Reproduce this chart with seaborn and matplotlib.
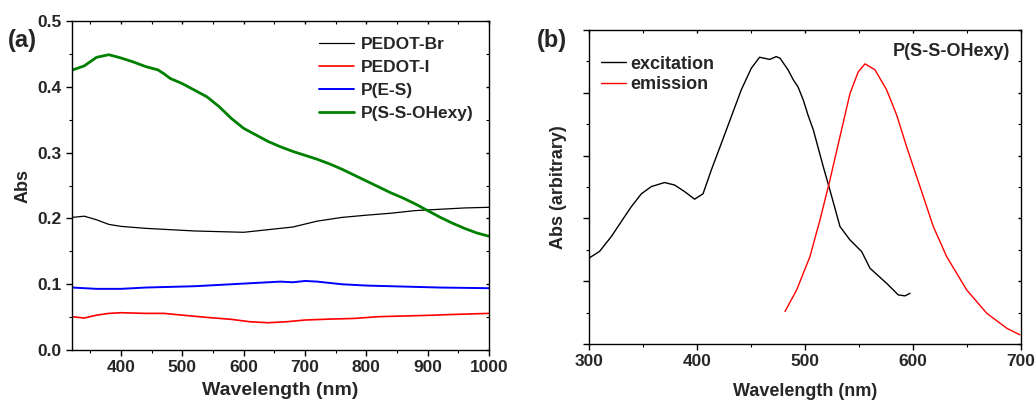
import numpy as np
import pandas as pd
import matplotlib
matplotlib.use("Agg")
import matplotlib.pyplot as plt
from matplotlib.ticker import MultipleLocator, NullFormatter
import seaborn as sns

sns.set_theme(style="white")
plt.rcParams['font.family'] = ['Liberation Sans', 'DejaVu Sans']
plt.rcParams['font.weight'] = 'bold'

# Panel (a) data
wl_green = [320, 340, 360, 380, 400, 420, 440, 460, 470, 480, 500, 520, 540, 560, 580, 600, 620, 640, 660, 680,
            700, 720, 740, 760, 780, 800, 820, 840, 860, 880, 900, 920, 940, 960, 980, 1000]
abs_green = [0.4255, 0.432, 0.445, 0.449, 0.444, 0.438, 0.431, 0.426, 0.420, 0.413, 0.405, 0.395, 0.385, 0.370,
             0.352, 0.337, 0.327, 0.317, 0.309, 0.302, 0.296, 0.290, 0.283, 0.275, 0.266, 0.257, 0.248, 0.239,
             0.231, 0.222, 0.212, 0.202, 0.193, 0.185, 0.178, 0.173]

wl_black = [320, 340, 360, 380, 400, 440, 480, 520, 560, 600, 640, 680, 720, 760, 800, 840, 880, 920, 960, 1000]
abs_black = [0.2016, 0.2035, 0.198, 0.191, 0.188, 0.185, 0.183, 0.181, 0.180, 0.179, 0.183, 0.187, 0.196,
             0.2016, 0.205, 0.208, 0.212, 0.214, 0.216, 0.217]

wl_blue = [320, 360, 400, 440, 480, 520, 560, 600, 640, 660, 680, 700, 720, 760, 800, 840, 880, 920, 1000]
abs_blue = [0.095, 0.093, 0.093, 0.095, 0.096, 0.097, 0.099, 0.101, 0.103, 0.104, 0.103, 0.105, 0.104, 0.100,
            0.098, 0.097, 0.096, 0.095, 0.094]

wl_red = [320, 340, 360, 380, 400, 440, 470, 500, 540, 580, 610, 640, 670, 700, 740, 780, 820, 860, 900, 940, 1000]
abs_red = [0.0507, 0.0486, 0.053, 0.0557, 0.0567, 0.0557, 0.0557, 0.053, 0.0496, 0.0466, 0.043, 0.0415, 0.043,
           0.0456, 0.047, 0.048, 0.0507, 0.0517, 0.0527, 0.054, 0.0557]

# Panel (b) data
wl_exc = [300, 309.9, 320.7, 330, 339.2, 348.5, 357.7, 370, 379.3, 388.6, 397.8, 405.6, 413.3, 422.6, 431.8,
          441, 450.3, 458, 467.3, 473.4, 476.9, 484.3, 489.2, 493.5, 498.4, 502.8, 507.7, 516.9, 523.1, 532.4,
          541.7, 552.5, 560.2, 575.6, 586.4, 592.6, 597.2]
int_exc = [0.273, 0.295, 0.342, 0.390, 0.437, 0.478, 0.501, 0.514, 0.506, 0.485, 0.461, 0.478, 0.554, 0.639,
           0.724, 0.809, 0.878, 0.913, 0.906, 0.915, 0.910, 0.873, 0.841, 0.819, 0.777, 0.729, 0.682, 0.565,
           0.490, 0.374, 0.331, 0.294, 0.241, 0.193, 0.156, 0.153, 0.161]

wl_em = [481.5, 492.3, 504.6, 513.9, 523.1, 532.4, 541.7, 549.4, 555.6, 564.8, 575.6, 584.9, 594.1, 606.5,
         618.8, 631.2, 649.7, 668.2, 686.8, 699]
int_em = [0.103, 0.172, 0.278, 0.395, 0.522, 0.660, 0.798, 0.867, 0.892, 0.873, 0.809, 0.729, 0.628, 0.501,
          0.374, 0.278, 0.172, 0.098, 0.050, 0.029]

fig = plt.figure(figsize=(10.36, 4.07), dpi=100)
ax1 = fig.add_axes([0.0695, 0.14, 0.4025, 0.808])
ax2 = fig.add_axes([0.5685, 0.155, 0.417, 0.7715])

sns.lineplot(x=wl_black, y=abs_black, ax=ax1, color='black', lw=0.9, label='PEDOT-Br')
sns.lineplot(x=wl_red, y=abs_red, ax=ax1, color='#ff0000', lw=1.2, label='PEDOT-I')
sns.lineplot(x=wl_blue, y=abs_blue, ax=ax1, color='#0000ff', lw=1.4, label='P(E-S)')
sns.lineplot(x=wl_green, y=abs_green, ax=ax1, color='#008000', lw=2.0, label='P(S-S-OHexy)')

ax1.set_xlim(320, 1000)
ax1.set_ylim(0, 0.5)
ax1.set_xticks([400, 500, 600, 700, 800, 900, 1000])
ax1.xaxis.set_minor_locator(MultipleLocator(50))
ax1.yaxis.set_major_locator(MultipleLocator(0.1))
ax1.yaxis.set_minor_locator(MultipleLocator(0.05))
ax1.set_xlabel('Wavelength (nm)', fontsize=14, fontweight='bold', labelpad=5)
ax1.set_ylabel('Abs', fontsize=13, fontweight='bold')
leg = ax1.legend(loc='upper right', frameon=False, fontsize=12.5, handlelength=2.0,
                 labelspacing=0.45, borderaxespad=0.5, handletextpad=0.4)
for t in leg.get_texts():
    t.set_fontweight('bold')

sns.lineplot(x=wl_exc, y=int_exc, ax=ax2, color='black', lw=1.0, label='excitation')
sns.lineplot(x=wl_em, y=int_em, ax=ax2, color='#ff0000', lw=1.0, label='emission')
ax2.set_xlim(300, 700)
ax2.set_ylim(0, 1.0)
ax2.xaxis.set_major_locator(MultipleLocator(100))
ax2.xaxis.set_minor_locator(MultipleLocator(50))
ax2.yaxis.set_major_locator(MultipleLocator(0.2))
ax2.yaxis.set_minor_locator(MultipleLocator(0.1))
ax2.yaxis.set_major_formatter(NullFormatter())
ax2.set_xlabel('Wavelength (nm)', fontsize=13, fontweight='bold', labelpad=10)
ax2.set_ylabel('Abs (arbitrary)', fontsize=13, fontweight='bold', labelpad=8)
leg2 = ax2.legend(loc='upper left', frameon=False, fontsize=13, handlelength=1.4,
                  labelspacing=0.2, bbox_to_anchor=(-0.01, 0.97), handletextpad=0.2)
for t in leg2.get_texts():
    t.set_fontweight('bold')
ax2.text(0.975, 0.93, 'P(S-S-OHexy)', transform=ax2.transAxes, ha='right', va='center',
         fontsize=13, fontweight='bold')

for ax in (ax1, ax2):
    for s in ax.spines.values():
        s.set_color('black')
        s.set_linewidth(1.0)
    ax.tick_params(which='both', direction='out', bottom=True, left=True, color='black')
    ax.tick_params(which='major', length=4, width=1.0, labelsize=12.5)
    ax.tick_params(which='minor', length=2.5, width=0.8)
    ax.tick_params(which='both', top=True, right=True, labeltop=False, labelright=False)
    for lab in ax.get_xticklabels() + ax.get_yticklabels():
        lab.set_fontweight('bold')
    # mirrored ticks on top/right drawn short and inward
    for tk in ax.xaxis.get_major_ticks() + ax.xaxis.get_minor_ticks():
        tk.tick2line.set_marker(3)
        tk.tick2line.set_markersize(2)
    for tk in ax.yaxis.get_major_ticks() + ax.yaxis.get_minor_ticks():
        tk.tick2line.set_marker(0)
        tk.tick2line.set_markersize(2)

fig.text(0.008, 0.90, '(a)', fontsize=17, fontweight='bold', va='center')
fig.text(0.518, 0.90, '(b)', fontsize=17, fontweight='bold', va='center')

fig.savefig('out.png', dpi=100)
